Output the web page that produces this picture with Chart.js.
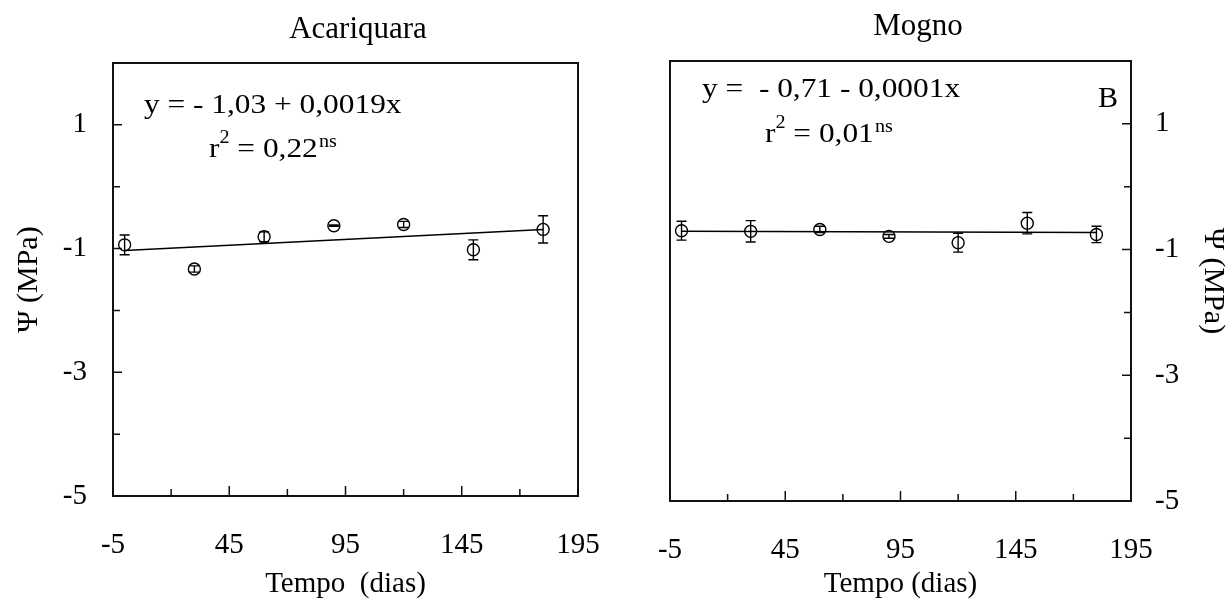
<!DOCTYPE html>
<html lang="pt">
<head>
<meta charset="utf-8">
<title>Potencial hídrico - Acariquara e Mogno</title>
<script src="https://cdn.jsdelivr.net/npm/chart.js@4.4.1/dist/chart.umd.min.js"></script>
<style>
  html, body { margin: 0; padding: 0; background: #fff; }
  #painel { position: relative; width: 1231px; height: 602px; overflow: hidden; }
  .grafico { position: absolute; top: 0; height: 602px; }
  #boxA { left: 0; width: 612px; }
  #boxB { left: 615px; width: 616px; }
</style>
</head>
<body>
<div id="painel">
  <div class="grafico" id="boxA"><canvas id="chartA"></canvas></div>
  <div class="grafico" id="boxB"><canvas id="chartB"></canvas></div>
</div>
<script>
const fonte = '"Liberation Serif", "Times New Roman", serif';

// Dados
const dias = [0, 30, 60, 90, 120, 150, 180];
const psiAcariquara = [-0.94, -1.33, -0.81, -0.63, -0.61, -1.02, -0.69];
const erroAcariquara = [0.16, 0.05, 0.08, 0.01, 0.05, 0.16, 0.22];
const psiMogno = [-0.70, -0.71, -0.68, -0.79, -0.89, -0.58, -0.76];
const erroMogno = [0.15, 0.17, 0.05, 0.03, 0.15, 0.17, 0.13];

// Retas de regressão (extremos)
const retaDias = [0, 180];
const retaAcariquara = [-1.03, -0.69];
const retaMogno = [-0.71, -0.73];

// Eixos
const xTicks = [-5, 20, 45, 70, 95, 120, 145, 170, 195];
const xTickLabels = ['-5', '', '45', '', '95', '', '145', '', '195'];
const yTicks = [-5, -4, -3, -2, -1, 0, 1, 2];
const yTickLabels = ['-5', '', '-3', '', '-1', '', '1', ''];

function pontos(xs, ys) {
    return xs.map((x, i) => ({ x: x, y: ys[i] }));
}

// Barras de erro verticais
function barrasErro(valores, erros) {
    return {
        id: 'barrasErro',
        afterDatasetsDraw(chart) {
            const ctx = chart.ctx;
            const xs = chart.scales.x;
            const ys = chart.scales.y;
            ctx.save();
            ctx.strokeStyle = '#000';
            ctx.lineWidth = 1.4;
            ctx.beginPath();
            dias.forEach((d, i) => {
                const px = xs.getPixelForValue(d);
                const topo = ys.getPixelForValue(valores[i] + erros[i]);
                const base = ys.getPixelForValue(valores[i] - erros[i]);
                ctx.moveTo(px, topo); ctx.lineTo(px, base);
                ctx.moveTo(px - 5, topo); ctx.lineTo(px + 5, topo);
                ctx.moveTo(px - 5, base); ctx.lineTo(px + 5, base);
            });
            ctx.stroke();
            ctx.restore();
        }
    };
}

// Moldura e marcas dos eixos voltadas para dentro
const moldura = {
    id: 'moldura',
    afterDraw(chart) {
        const ctx = chart.ctx;
        const a = chart.chartArea;
        const xs = chart.scales.x;
        const ys = chart.scales.y;
        ctx.save();
        ctx.strokeStyle = '#111';
        ctx.lineWidth = 2;
        ctx.strokeRect(a.left, a.top, a.right - a.left, a.bottom - a.top);
        ctx.lineWidth = 1.5;
        ctx.beginPath();
        xs.ticks.forEach((t, i) => {
            const px = xs.getPixelForValue(t.value);
            const len = xTickLabels[i] ? 10 : 7;
            ctx.moveTo(px, a.bottom);
            ctx.lineTo(px, a.bottom - len);
        });
        const direita = ys.options.position === 'right';
        ys.ticks.forEach((t, i) => {
            const py = ys.getPixelForValue(t.value);
            const len = yTickLabels[i] ? 9 : 7;
            if (direita) {
                ctx.moveTo(a.right, py);
                ctx.lineTo(a.right - len, py);
            } else {
                ctx.moveTo(a.left, py);
                ctx.lineTo(a.left + len, py);
            }
        });
        ctx.stroke();
        ctx.restore();
    }
};

// Título, equação e r²
function textos(cfg) {
    return {
        id: 'textos',
        afterDraw(chart) {
            const ctx = chart.ctx;
            ctx.save();
            ctx.fillStyle = '#000';
            ctx.textBaseline = 'alphabetic';

            ctx.font = '31px ' + fonte;
            ctx.textAlign = 'center';
            ctx.fillText(cfg.titulo, cfg.tituloX, cfg.tituloY);
            ctx.textAlign = 'left';

            ctx.save();
            ctx.translate(cfg.eqX, cfg.eqY);
            ctx.scale(1.12, 1);
            ctx.font = '28px ' + fonte;
            ctx.fillText(cfg.equacao, 0, 0);
            ctx.restore();

            ctx.save();
            ctx.translate(cfg.r2X, cfg.r2Y);
            ctx.scale(1.12, 1);
            let x = 0;
            ctx.font = '28px ' + fonte;
            ctx.fillText('r', x, 0);
            x += ctx.measureText('r').width;
            ctx.font = '18px ' + fonte;
            ctx.fillText('2', x, -14);
            x += ctx.measureText('2').width;
            ctx.font = '28px ' + fonte;
            const txt = ' = ' + cfg.r2;
            ctx.fillText(txt, x, 0);
            x += ctx.measureText(txt).width;
            ctx.font = '18px ' + fonte;
            ctx.fillText('ns', x + 1, -10);
            ctx.restore();

            if (cfg.letra) {
                ctx.font = '30px ' + fonte;
                ctx.fillText(cfg.letra, cfg.letraX, cfg.letraY);
            }
            ctx.restore();
        }
    };
}

function opcoes(cfg) {
    return {
        responsive: true,
        maintainAspectRatio: false,
        animation: false,
        layout: { padding: cfg.padding },
        plugins: {
            legend: { display: false },
            tooltip: { enabled: false }
        },
        scales: {
            x: {
                type: 'linear',
                min: -5,
                max: 195,
                afterBuildTicks: s => { s.ticks = xTicks.map(v => ({ value: v })); },
                afterFit: s => {
                    s.height = cfg.alturaX;
                    // os rótulos das pontas não empurram a área do gráfico
                    s.paddingLeft = 0;
                    s.paddingRight = 0;
                },
                grid: { display: false, drawTicks: false },
                border: { display: false },
                ticks: {
                    autoSkip: false,
                    maxRotation: 0,
                    padding: 32,
                    color: '#000',
                    font: { family: fonte, size: 29 },
                    callback: (v, i) => xTickLabels[i]
                },
                title: {
                    display: true,
                    text: cfg.tituloEixoX,
                    color: '#000',
                    font: { family: fonte, size: 29 },
                    padding: { top: 0, bottom: 0 }
                }
            },
            y: {
                type: 'linear',
                position: cfg.posY,
                min: -5,
                max: 2,
                afterBuildTicks: s => { s.ticks = yTicks.map(v => ({ value: v })); },
                afterFit: s => {
                    s.width = cfg.larguraY;
                    s.paddingTop = 0;
                    s.paddingBottom = 0;
                },
                grid: { display: false, drawTicks: false },
                border: { display: false },
                ticks: {
                    autoSkip: false,
                    padding: cfg.padY,
                    color: '#000',
                    font: { family: fonte, size: 29 },
                    callback: (v, i) => yTickLabels[i]
                },
                title: {
                    display: true,
                    text: 'Ψ (MPa)',
                    color: '#000',
                    font: { family: fonte, size: 30 },
                    padding: { top: cfg.padTituloY, bottom: 0 }
                }
            }
        }
    };
}

function conjuntos(valores, reta) {
    return [
        {
            label: 'Ψ',
            data: pontos(dias, valores),
            showLine: false,
            pointRadius: 6,
            pointBorderWidth: 1.4,
            pointBorderColor: '#000',
            pointBackgroundColor: 'rgba(0,0,0,0)'
        },
        {
            type: 'line',
            label: 'regressão',
            data: pontos(retaDias, reta),
            borderColor: '#000',
            borderWidth: 1.5,
            pointRadius: 0,
            fill: false
        }
    ];
}

// Gráfico A - Acariquara
new Chart(document.getElementById('chartA'), {
    type: 'scatter',
    data: { datasets: conjuntos(psiAcariquara, retaAcariquara) },
    options: opcoes({
        padding: { top: 63, right: 34, bottom: 0, left: 0 },
        alturaX: 106, larguraY: 113, posY: 'left', padY: 26, padTituloY: 11,
        tituloEixoX: 'Tempo  (dias)'
    }),
    plugins: [
        barrasErro(psiAcariquara, erroAcariquara),
        moldura,
        textos({
            titulo: 'Acariquara', tituloX: 358, tituloY: 38,
            equacao: 'y = - 1,03 + 0,0019x', eqX: 144, eqY: 113,
            r2: '0,22', r2X: 209, r2Y: 157
        })
    ]
});

// Gráfico B - Mogno
new Chart(document.getElementById('chartB'), {
    type: 'scatter',
    data: { datasets: conjuntos(psiMogno, retaMogno) },
    options: opcoes({
        padding: { top: 61, right: 0, bottom: 0, left: 55 },
        alturaX: 101, larguraY: 100, posY: 'right', padY: 24, padTituloY: 0,
        tituloEixoX: 'Tempo (dias)'
    }),
    plugins: [
        barrasErro(psiMogno, erroMogno),
        moldura,
        textos({
            titulo: 'Mogno', tituloX: 303, tituloY: 35,
            equacao: 'y =  - 0,71 - 0,0001x', eqX: 87, eqY: 97,
            r2: '0,01', r2X: 150, r2Y: 142,
            letra: 'B', letraX: 483, letraY: 107
        })
    ]
});
</script>
</body>
</html>
